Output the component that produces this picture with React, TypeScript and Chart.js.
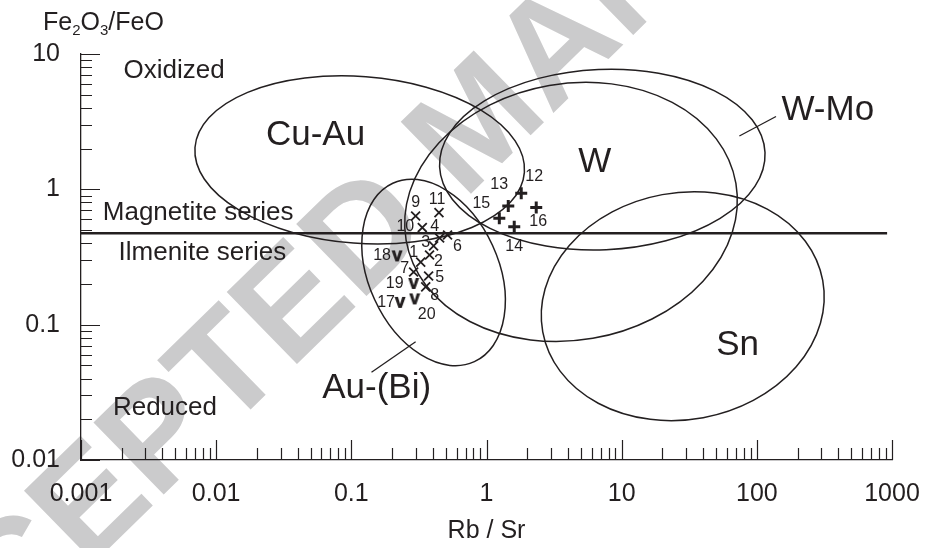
import React, { useEffect, useRef } from 'react';
import { Chart, registerables } from 'chart.js';

Chart.register(...registerables);

const INK = '#231f20';
const FONT = '"Liberation Sans", Arial, Helvetica, sans-serif';

// ---- axes ----
const xTickValues = [0.001, 0.01, 0.1, 1, 10, 100, 1000];
const xTickLabels = ['0.001', '0.01', '0.1', '1', '10', '100', '1000'];
const yTickValues = [0.01, 0.1, 1, 10];
const yTickLabels = ['0.01', '0.1', '1', '10'];
const minorMultipliers = [2, 3, 4, 5, 6, 7, 8, 9];
const xTitle = 'Rb / Sr';

// ---- samples: crosses (1-11) ----
const crossIds = ['1', '2', '3', '4', '5', '6', '7', '8', '9', '10', '11'];
const crossRbSr = [0.326, 0.379, 0.406, 0.45, 0.373, 0.515, 0.289, 0.355, 0.299, 0.335, 0.445];
const crossFe = [0.29, 0.327, 0.382, 0.437, 0.229, 0.46, 0.245, 0.19, 0.635, 0.522, 0.673];

// ---- samples: plus (12-16) ----
const plusIds = ['12', '13', '14', '15', '16'];
const plusRbSr = [1.807, 1.449, 1.604, 1.244, 2.333];
const plusFe = [0.935, 0.753, 0.53, 0.611, 0.734];

// ---- samples: V (17-20) ----
const vIds = ['17', '18', '19', '20'];
const vRbSr = [0.2296, 0.218, 0.289, 0.294];
const vFe = [0.146, 0.322, 0.2015, 0.155];

// ---- ore fields (ellipses in log-log space) ----
const fieldNames = ['Cu-Au', 'W', 'W-Mo', 'Sn', 'Au-(Bi)'];
const fieldCenterRbSr = [0.1153, 4.22, 7.19, 28.3, 0.406];
const fieldCenterFe = [1.649, 0.681, 1.658, 0.137, 0.243];
const fieldSemiMajorDec = [1.222, 1.238, 1.205, 1.053, 0.725];
const fieldSemiMinorDec = [0.616, 0.948, 0.667, 0.838, 0.48];
const fieldTiltDeg = [-4.3, 9.8, 2.5, 10.4, -65.4];
const fieldLabelRbSr = [0.0543, 6.33, 335, 72.1, 0.154];
const fieldLabelFe = [2.51, 1.58, 3.86, 0.0708, 0.034];

// ---- zone annotations ----
const zoneNames = ['Oxidized', 'Magnetite series', 'Ilmenite series', 'Reduced'];
const zoneRbSr = [0.00489, 0.00736, 0.00791, 0.00418];
const zoneFe = [7.5, 0.675, 0.342, 0.0245];

// ---- lines ----
const boundaryRbSr = [0.001, 920];
const boundaryFe = [0.473, 0.473];
const leaderWMoRbSr = [74.3, 138.6];
const leaderWMoFe = [2.48, 3.45];
const leaderAuBiRbSr = [0.299, 0.141];
const leaderAuBiFe = [0.0748, 0.0445];

const watermarkText = 'ACCEPTED MANUSCRIPT';

// ---- styling (label offsets in px) ----
const crossLabelOffsets = [[-7, -9], [9, 7], [-8, -3], [-5, -11], [11, 2], [10, 12], [-9, -3], [9, 9], [0, -13], [-17, -1], [-2, -13]];
const plusLabelOffsets = [[13, -17], [-9, -21], [0, 20], [-18, -15], [2, 14]];
const vLabelOffsets = [[-14, 0], [-15, 0], [-19, 0], [12, 16]];

function pts(xs: number[], ys: number[]) {
  return xs.map((x, i) => ({ x, y: ys[i] }));
}

function makeV(): HTMLCanvasElement {
  const c = document.createElement('canvas');
  c.width = 12;
  c.height = 13;
  const g = c.getContext('2d')!;
  g.fillStyle = INK;
  g.beginPath();
  g.moveTo(0.5, 1);
  g.lineTo(3.9, 1);
  g.lineTo(6, 8.3);
  g.lineTo(8.1, 1);
  g.lineTo(11.5, 1);
  g.lineTo(7.6, 12);
  g.lineTo(4.4, 12);
  g.closePath();
  g.fill();
  return c;
}

const decorPlugin = {
  id: 'decor',
  beforeDraw(chart: any) {
    const ctx = chart.ctx;
    ctx.save();
    ctx.fillStyle = '#ffffff';
    ctx.fillRect(0, 0, chart.width, chart.height);
    // watermark
    ctx.translate(-167, 762);
    ctx.rotate((-44.4 * Math.PI) / 180);
    ctx.font = `bold 146px ${FONT}`;
    ctx.fillStyle = '#cbcbcc';
    ctx.textAlign = 'left';
    ctx.textBaseline = 'middle';
    ctx.fillText(watermarkText, 0, 0);
    ctx.restore();
  },
  beforeDatasetsDraw(chart: any) {
    const ctx = chart.ctx;
    const xs = chart.scales.x;
    const ys = chart.scales.y;
    ctx.save();
    ctx.strokeStyle = INK;
    ctx.lineWidth = 1.5;
    fieldNames.forEach((_, i) => {
      const cxv = fieldCenterRbSr[i];
      const cyv = fieldCenterFe[i];
      const cx = xs.getPixelForValue(cxv);
      const cy = ys.getPixelForValue(cyv);
      const dX = xs.getPixelForValue(cxv * 10) - cx;
      const dY = cy - ys.getPixelForValue(cyv * 10);
      ctx.save();
      ctx.beginPath();
      ctx.translate(cx, cy);
      ctx.scale(dX, -dY);
      ctx.rotate((fieldTiltDeg[i] * Math.PI) / 180);
      ctx.ellipse(0, 0, fieldSemiMajorDec[i], fieldSemiMinorDec[i], 0, 0, Math.PI * 2);
      ctx.restore();
      ctx.stroke();
    });
    // texts
    ctx.fillStyle = INK;
    ctx.textAlign = 'center';
    ctx.textBaseline = 'middle';
    ctx.font = `35px ${FONT}`;
    fieldNames.forEach((n, i) => {
      ctx.fillText(n, xs.getPixelForValue(fieldLabelRbSr[i]), ys.getPixelForValue(fieldLabelFe[i]));
    });
    ctx.font = `26px ${FONT}`;
    zoneNames.forEach((n, i) => {
      ctx.fillText(n, xs.getPixelForValue(zoneRbSr[i]), ys.getPixelForValue(zoneFe[i]));
    });
    ctx.restore();
  },
  afterDatasetsDraw(chart: any) {
    const ctx = chart.ctx;
    const ca = chart.chartArea;
    const xs = chart.scales.x;
    const ys = chart.scales.y;
    ctx.save();
    // point labels
    ctx.fillStyle = INK;
    ctx.font = `16px ${FONT}`;
    ctx.textAlign = 'center';
    ctx.textBaseline = 'middle';
    const groups: [number, string[], number[][]][] = [
      [3, crossIds, crossLabelOffsets],
      [4, plusIds, plusLabelOffsets],
      [5, vIds, vLabelOffsets],
    ];
    groups.forEach(([di, ids, offs]) => {
      const meta = chart.getDatasetMeta(di);
      meta.data.forEach((el: any, j: number) => {
        ctx.fillText(ids[j], el.x + offs[j][0], el.y + offs[j][1]);
      });
    });
    // ticks (inward)
    ctx.strokeStyle = INK;
    ctx.lineWidth = 1.2;
    ctx.beginPath();
    xTickValues.forEach((v, i) => {
      const px = Math.round(xs.getPixelForValue(v)) + 0.5;
      ctx.moveTo(px, ca.bottom);
      ctx.lineTo(px, ca.bottom - 20);
      if (i < xTickValues.length - 1) {
        minorMultipliers.forEach((m) => {
          const mx = Math.round(xs.getPixelForValue(v * m)) + 0.5;
          ctx.moveTo(mx, ca.bottom);
          ctx.lineTo(mx, ca.bottom - 12);
        });
      }
    });
    yTickValues.forEach((v, i) => {
      const py = Math.round(ys.getPixelForValue(v)) + 0.5;
      ctx.moveTo(ca.left, py);
      ctx.lineTo(ca.left + 19, py);
      if (i < yTickValues.length - 1) {
        minorMultipliers.forEach((m) => {
          const my = Math.round(ys.getPixelForValue(v * m)) + 0.5;
          ctx.moveTo(ca.left, my);
          ctx.lineTo(ca.left + 11, my);
        });
      }
    });
    ctx.stroke();
    // y-axis title with subscripts
    let x = ca.left - 38;
    const base = ca.top - 24;
    ctx.textAlign = 'left';
    ctx.textBaseline = 'alphabetic';
    const parts: [string, boolean][] = [['Fe', false], ['2', true], ['O', false], ['3', true], ['/FeO', false]];
    parts.forEach(([t, sub]) => {
      ctx.font = sub ? `15px ${FONT}` : `25px ${FONT}`;
      ctx.fillText(t, x, sub ? base + 5 : base);
      x += ctx.measureText(t).width;
    });
    ctx.restore();
  },
};

export default function App() {
  const ref = useRef<HTMLCanvasElement>(null);
  useEffect(() => {
    const canvas = ref.current;
    if (!canvas) return;
    const vStyle = makeV();
    const chart = new Chart(canvas, {
      type: 'scatter',
      data: {
        datasets: [
          {
            label: 'Magnetite / Ilmenite boundary',
            data: pts(boundaryRbSr, boundaryFe),
            showLine: true,
            borderColor: INK,
            borderWidth: 2.5,
            pointRadius: 0,
          },
          {
            label: 'W-Mo leader',
            data: pts(leaderWMoRbSr, leaderWMoFe),
            showLine: true,
            borderColor: INK,
            borderWidth: 1.3,
            pointRadius: 0,
          },
          {
            label: 'Au-(Bi) leader',
            data: pts(leaderAuBiRbSr, leaderAuBiFe),
            showLine: true,
            borderColor: INK,
            borderWidth: 1.3,
            pointRadius: 0,
          },
          {
            label: 'crosses',
            data: pts(crossRbSr, crossFe),
            pointStyle: 'crossRot',
            pointRadius: 6.3,
            borderColor: INK,
            borderWidth: 1.8,
          },
          {
            label: 'plus',
            data: pts(plusRbSr, plusFe),
            pointStyle: 'cross',
            pointRadius: 6,
            borderColor: INK,
            borderWidth: 3,
          },
          {
            label: 'V',
            data: pts(vRbSr, vFe),
            pointStyle: vStyle as any,
            pointRadius: 6,
          },
        ],
      },
      options: {
        animation: false,
        responsive: false,
        maintainAspectRatio: false,
        devicePixelRatio: 1,
        events: [],
        layout: { padding: { left: 0, top: 54, right: 34, bottom: 0 } },
        plugins: { legend: { display: false }, tooltip: { enabled: false } },
        scales: {
          x: {
            type: 'logarithmic',
            position: 'bottom',
            min: 0.001,
            max: 1000,
            afterBuildTicks: (s: any) => {
              s.ticks = xTickValues.map((v) => ({ value: v }));
            },
            afterFit: (s: any) => {
              s.height = 88;
              s.paddingLeft = 0;
              s.paddingRight = 0;
            },
            grid: { display: false, drawTicks: false },
            border: { display: true, color: INK, width: 1.3 },
            ticks: {
              autoSkip: false,
              maxRotation: 0,
              padding: 19,
              color: INK,
              font: { family: FONT, size: 25 },
              callback: (v: any) => {
                const i = xTickValues.findIndex((t) => Math.abs(t - v) < t * 1e-6);
                return i >= 0 ? xTickLabels[i] : '';
              },
            },
            title: {
              display: true,
              text: xTitle,
              color: INK,
              font: { family: FONT, size: 25 },
              padding: { top: 0, bottom: 2 },
            },
          },
          y: {
            type: 'logarithmic',
            position: 'left',
            min: 0.01,
            max: 10,
            afterBuildTicks: (s: any) => {
              s.ticks = yTickValues.map((v) => ({ value: v }));
            },
            afterFit: (s: any) => {
              s.width = 81;
              s.paddingTop = 0;
              s.paddingBottom = 0;
            },
            grid: { display: false, drawTicks: false },
            border: { display: true, color: INK, width: 1.3 },
            ticks: {
              autoSkip: false,
              padding: 21,
              color: INK,
              font: { family: FONT, size: 25 },
              callback: (v: any) => {
                const i = yTickValues.findIndex((t) => Math.abs(t - v) < t * 1e-6);
                return i >= 0 ? yTickLabels[i] : '';
              },
            },
          },
        },
      } as any,
      plugins: [decorPlugin],
    });
    return () => chart.destroy();
  }, []);
  return (
    <div style={{ position: 'absolute', left: 0, top: 0, width: 926, height: 548, background: '#fff' }}>
      <canvas ref={ref} width={926} height={548} style={{ display: 'block', width: 926, height: 548 }} />
    </div>
  );
}
